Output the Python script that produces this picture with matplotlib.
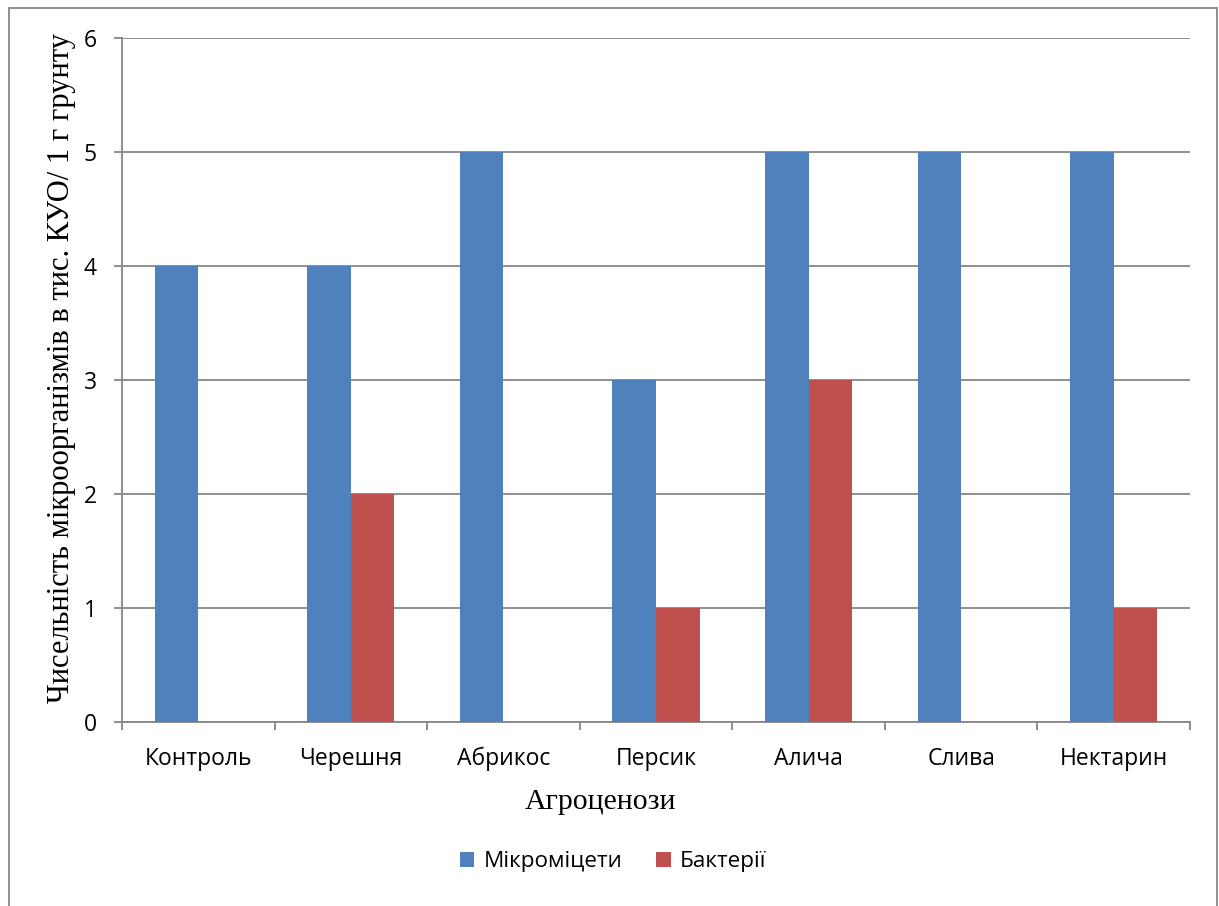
import numpy as np
import matplotlib
matplotlib.use('Agg')
import matplotlib.pyplot as plt
from matplotlib.patches import Rectangle, Patch

# data
categories = ['Контроль', 'Черешня', 'Абрикос', 'Персик', 'Алича', 'Слива', 'Нектарин']
micromycetes = [4, 4, 5, 3, 5, 5, 5]
bacteria = [0, 2, 0, 1, 3, 0, 1]
series_names = ['Мікроміцети', 'Бактерії']
y_ticks = [0, 1, 2, 3, 4, 5, 6]

BLUE = '#4F81BD'
RED = '#C0504D'
GRID = '#868686'

fig = plt.figure(figsize=(12.19, 9.06), dpi=100)
ax = fig.add_axes([122 / 1219, 1 - 722 / 906, (1190 - 122) / 1219, (722 - 38) / 906])

x = np.arange(len(categories))
w = 1 / 3.5
ax.bar(x - w / 2, micromycetes, width=w, color=BLUE, zorder=3)
ax.bar(x + w / 2, bacteria, width=w, color=RED, zorder=3)

ax.set_xlim(-0.5, len(categories) - 0.5)
ax.set_ylim(0, 6)
ax.set_yticks(y_ticks)
ax.yaxis.grid(True, color=GRID, linewidth=1.3, zorder=0)
ax.set_axisbelow(True)

# category boundaries as x ticks, labels in between
ax.set_xticks(np.arange(-0.5, len(categories), 1))
ax.set_xticklabels([])
ax.set_xticks(x, minor=True)
ax.set_xticklabels(categories, minor=True)
ax.tick_params(axis='x', which='minor', length=0, pad=18)
ax.tick_params(axis='x', which='major', length=6, width=1.3, color=GRID, direction='out')
ax.tick_params(axis='y', length=6, width=1.3, color=GRID, direction='out', pad=12)

tick_font = 'Open Sans'
for lab in ax.get_xticklabels(minor=True) + ax.get_yticklabels():
    lab.set_fontfamily(tick_font)
    lab.set_fontsize(16.5)

for side in ['top', 'right']:
    ax.spines[side].set_visible(False)
for side in ['left', 'bottom']:
    ax.spines[side].set_color(GRID)
    ax.spines[side].set_linewidth(1.3)

fig.text(600 / 1219, 1 - 802 / 906, 'Агроценози', family='Liberation Serif',
         fontsize=21.5, ha='center', va='center')
fig.text(62 / 1219, 1 - 368 / 906, 'Чисельність мікроорганізмів в тис. КУО/ 1 г грунту',
         family='Liberation Serif', fontsize=22, rotation=90, ha='center', va='center')

handles = [Patch(facecolor=BLUE), Patch(facecolor=RED)]
leg = fig.legend(handles, series_names, loc='center', bbox_to_anchor=(613 / 1219, 1 - 862 / 906),
                 ncol=2, frameon=False, prop={'family': tick_font, 'size': 16.2},
                 handlelength=0.65, handleheight=0.65, handletextpad=0.4, columnspacing=1.5)

# outer chart border
fig.patches.append(Rectangle((9 / 1219, -0.05), (1217 - 9) / 1219, 1.05 - 8 / 906,
                             transform=fig.transFigure, fill=False, edgecolor=GRID,
                             linewidth=1.3))

fig.savefig('out.png', dpi=100)
